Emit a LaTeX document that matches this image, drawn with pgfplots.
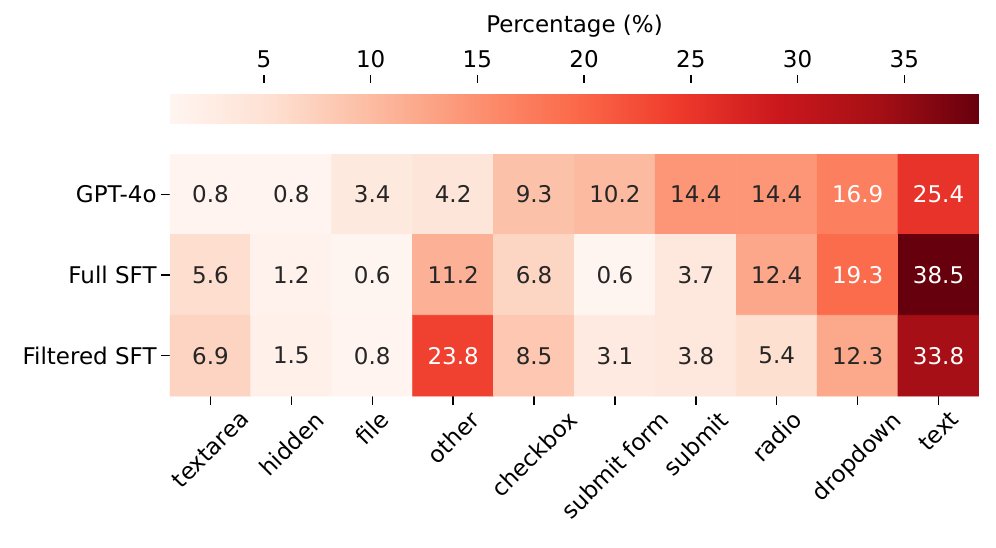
\documentclass[border=0pt]{standalone}
\usepackage{pgfplots}
\pgfplotsset{compat=1.18}
\usepackage{pgfplotstable}
\usepackage{graphicx}
\usepackage{fontspec}
\setmainfont{DejaVu Sans}
\definecolor{annot}{RGB}{38,38,38}

\pgfplotsset{/pgf/number format/assume math mode=true}

% rows: GPT-4o (y=0), Full SFT (y=1), Filtered SFT (y=2)
\pgfplotstableread{
x y v
0 0 0.8
1 0 0.8
2 0 3.4
3 0 4.2
4 0 9.3
5 0 10.2
6 0 14.4
7 0 14.4
8 0 16.9
9 0 25.4
0 1 5.6
1 1 1.2
2 1 0.6
3 1 11.2
4 1 6.8
5 1 0.6
6 1 3.7
7 1 12.4
8 1 19.3
9 1 38.5
0 2 6.9
1 2 1.5
2 2 0.8
3 2 23.8
4 2 8.5
5 2 3.1
6 2 3.8
7 2 5.4
8 2 12.3
9 2 33.8
}\cells

\begin{document}
\begin{tikzpicture}[font=\fontsize{11.5}{13.8}\selectfont]
\useasboundingbox (-85pt,-75.5pt) rectangle (413pt,198pt);
\begin{axis}[
    at={(0,0)}, anchor=south west,
    scale only axis, width=404.5pt, height=121pt,
    xmin=-0.5, xmax=9.5, ymin=-0.5, ymax=2.5, y dir=reverse,
    colormap={reds}{rgb255=(255,245,240) rgb255=(254,224,210) rgb255=(252,187,161)
        rgb255=(252,146,114) rgb255=(251,106,74) rgb255=(239,59,44)
        rgb255=(203,24,29) rgb255=(165,15,21) rgb255=(103,0,13)},
    point meta min=0.6, point meta max=38.5,
    axis line style={draw=none},
    tick align=outside, major tick length=4.5pt,
    tick style={line width=0.7pt, black},
    xtick pos=left, ytick pos=left,
    xtick={0,...,9}, ytick={0,1,2},
    xticklabels={\rotatebox{45}{textarea}, \rotatebox{45}{hidden}, \rotatebox{45}{file},
        \rotatebox{45}{other}, \rotatebox{45}{checkbox}, \rotatebox{45}{submit form},
        \rotatebox{45}{submit}, \rotatebox{45}{radio}, \rotatebox{45}{dropdown},
        \rotatebox{45}{text}},
    yticklabels={GPT-4o, Full SFT, Filtered SFT},
    xticklabel style={anchor=north, inner sep=2pt},
    yticklabel style={inner sep=2pt},
    colorbar horizontal,
    colorbar style={
        at={(0,1.128)}, anchor=south west,
        scale only axis, width=404.5pt, height=20pt,
        xtick={5,10,...,35}, xtick pos=right, xticklabel pos=right,
        xlabel={Percentage (\%)},
        axis line style={draw=none},
        tick align=outside, major tick length=4pt,
        tick style={line width=0.7pt, black},
        ytick=\empty,
    },
]
\addplot[matrix plot*, mesh/cols=10, point meta=explicit]
    table[x=x, y=y, meta=v] {\cells};
\addplot[draw=none, mark=none, point meta=explicit symbolic,
    restrict expr to domain={\thisrow{v}}{0:15},
    nodes near coords,
    every node near coord/.append style={anchor=center, text=annot},
] table[x=x, y=y, meta=v] {\cells};
\addplot[draw=none, mark=none, point meta=explicit symbolic,
    restrict expr to domain={\thisrow{v}}{15:100},
    nodes near coords,
    every node near coord/.append style={anchor=center, text=white},
] table[x=x, y=y, meta=v] {\cells};
\end{axis}
\end{tikzpicture}
\end{document}
